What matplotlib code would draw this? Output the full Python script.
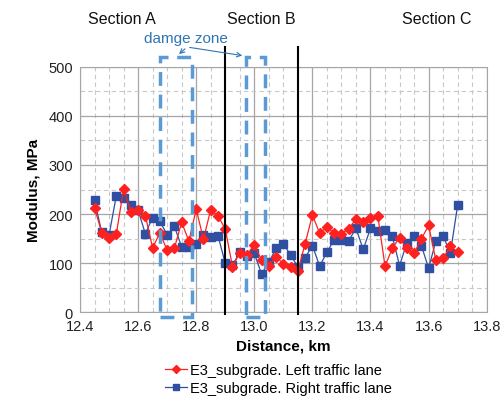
import matplotlib
matplotlib.use("Agg")
import matplotlib.pyplot as plt
import numpy as np
from matplotlib.patches import Rectangle
from matplotlib.ticker import MultipleLocator

plt.rcParams['font.family'] = ['Liberation Sans', 'DejaVu Sans']

distance_start = 12.45
distance_step = 0.025

left_lane = [213, 162, 151, 159, 251, 205, 208, 197, 131, 162,
             126, 131, 183, 145, 210, 149, 209, 196, 170, 93,
             121, 117, 137, 107, 95, 113, 99, 92, 84, 140,
             198, 161, 173, 161, 160, 170, 190, 184, 191, 197,
             94, 130, 152, 130, 120, 149, 177, 106, 110, 134, 123]
right_lane = [228, 163, 157, 237, 232, 218, 208, 160, 193, 185,
              158, 175, 133, 133, 140, 157, 153, 156, 100, 96,
              122, 114, 120, 78, 102, 130, 139, 117, 92, 111,
              136, 94, 122, 148, 148, 146, 171, 128, 171, 165,
              167, 155, 95, 141, 155, 136, 90, 145, 155, 121, 218]
distance = [round(distance_start + i * distance_step, 3) for i in range(len(left_lane))]

section_bounds = [12.9, 13.15]
damage_zones = [(12.675, 12.784), (12.971, 13.037)]
section_labels = ["Section A", "Section B", "Section C"]

fig = plt.figure(figsize=(5.03, 4.02), dpi=100)
ax = fig.add_axes([0.159, 0.2206, 0.8086, 0.611])

ax.set_xlim(12.4, 13.8)
ax.set_ylim(0, 500)
ax.xaxis.set_major_locator(MultipleLocator(0.2))
ax.xaxis.set_minor_locator(MultipleLocator(0.05))
ax.yaxis.set_major_locator(MultipleLocator(100))
ax.yaxis.set_minor_locator(MultipleLocator(50))
ax.set_xticks(np.arange(12.4, 13.81, 0.2))
ax.set_xticklabels([f"{v:.1f}" for v in np.arange(12.4, 13.81, 0.2)])
ax.grid(which='major', color='#a6a6a6', linewidth=0.9, linestyle='-')
ax.grid(which='minor', color='#c8c8c8', linewidth=0.8, linestyle=(0, (4, 3)))
ax.set_axisbelow(True)
for s in ax.spines.values():
    s.set_color('#a6a6a6')
ax.tick_params(which='both', length=0, labelsize=10.5, colors='#222222', pad=5)
ax.tick_params(which='minor', length=0)

ax.plot(distance, left_lane, color='#ff2020', marker='D', markersize=5.5,
        linewidth=0.9, label='E3_subgrade. Left traffic lane', zorder=4)
ax.plot(distance, right_lane, color='#2f4fa3', marker='s', markersize=5.5,
        linewidth=0.9, label='E3_subgrade. Right traffic lane', zorder=3)

# section boundaries (extend above the plot)
for b in section_bounds:
    ax.plot([b, b], [-4, 540], color='black', linewidth=1.5, clip_on=False, zorder=5)

# damage zone rectangles
for x0, x1 in damage_zones:
    r = Rectangle((x0, -10), x1 - x0, 530, fill=False, edgecolor='#5b9bd5',
                  linewidth=2.5, linestyle=(0, (4, 2.5)), clip_on=False, zorder=6)
    ax.add_patch(r)

ax.set_xlabel("Distance, km", fontsize=11, fontweight='bold', labelpad=4)
ax.set_ylabel("Modulus, MPa", fontsize=11, fontweight='bold', labelpad=6)

# section labels
for lbl, xp in zip(section_labels, [122, 261, 437]):
    fig.text(xp / 503, 1 - 20 / 402, lbl, fontsize=11.5, ha='center', va='center', color='#111111')

# damage zone annotation
fig.text(186 / 503, 1 - 39 / 402, "damge zone", fontsize=11, ha='center', va='center', color='#2e75b6')
for tx, ty in [(177, 57), (245, 57)]:
    fig.add_artist(matplotlib.patches.FancyArrowPatch(
        (187 / 503, 1 - 48 / 402), (tx / 503, 1 - ty / 402), transform=fig.transFigure,
        arrowstyle='->', mutation_scale=8, color='#2e75b6', linewidth=0.8))

ax.legend(loc='upper left', bbox_to_anchor=(165 / 503, 1 - 364 / 402), bbox_transform=fig.transFigure,
          frameon=False, fontsize=10.5, handlelength=1.5, handletextpad=0.2, labelspacing=0.25,
          borderpad=0, borderaxespad=0, markerscale=0.8)

fig.savefig("out.png", dpi=100)
